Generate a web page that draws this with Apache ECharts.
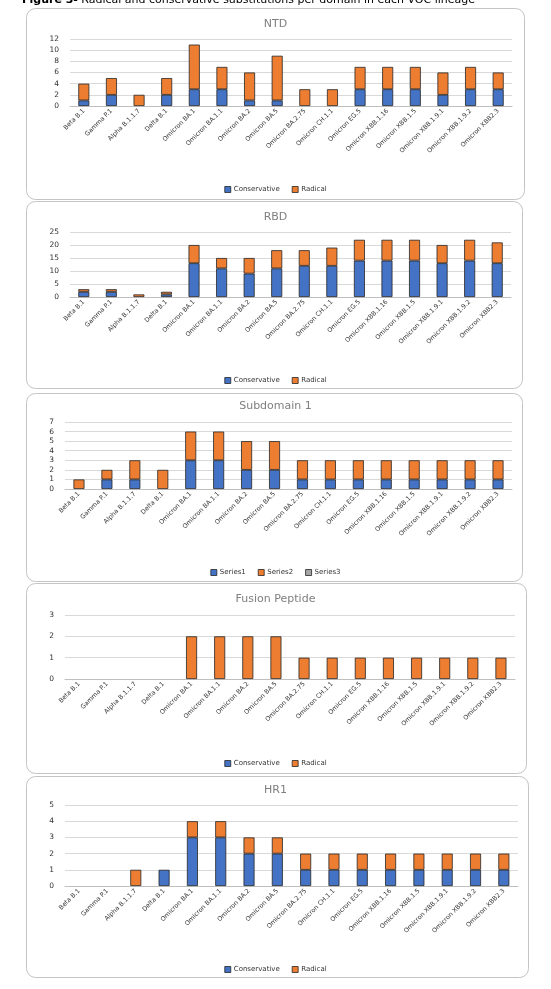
<!DOCTYPE html>
<html>
<head>
<meta charset="utf-8">
<script src="https://cdn.jsdelivr.net/npm/echarts@6/dist/echarts.min.js"></script>
<style>
html,body{margin:0;padding:0;background:#fff;}
#c{width:551px;height:989px;}
</style>
</head>
<body>
<div id="c"></div>
<script>
const categories = ["Beta B.1","Gamma P.1","Alpha B.1.1.7","Delta B.1","Omicron BA.1","Omicron BA.1.1","Omicron BA.2","Omicron BA.5","Omicron BA.2.75","Omicron CH.1.1","Omicron EG.5","Omicron XBB.1.16","Omicron XBB.1.5","Omicron XBB.1.9.1","Omicron XBB.1.9.2","Omicron XBB2.3"];

const ntdConservative = [1,2,0,2,3,3,1,1,0,0,3,3,3,2,3,3];
const ntdRadical      = [3,3,2,3,8,4,5,8,3,3,4,4,4,4,4,3];

const rbdConservative = [2,2,0,1,13,11,9,11,12,12,14,14,14,13,14,13];
const rbdRadical      = [1,1,1,1,7,4,6,7,6,7,8,8,8,7,8,8];

const sd1Series1 = [0,1,1,0,3,3,2,2,1,1,1,1,1,1,1,1];
const sd1Series2 = [1,1,2,2,3,3,3,3,2,2,2,2,2,2,2,2];
const sd1Series3 = [];

const fpConservative = [0,0,0,0,0,0,0,0,0,0,0,0,0,0,0,0];
const fpRadical      = [0,0,0,0,2,2,2,2,1,1,1,1,1,1,1,1];

const hr1Conservative = [0,0,0,1,3,3,2,2,1,1,1,1,1,1,1,1];
const hr1Radical      = [0,0,1,0,1,1,1,1,1,1,1,1,1,1,1,1];

const panelTitles = ["NTD","RBD","Subdomain 1","Fusion Peptide","HR1"];
const yMax      = [12,25,7,3,5];
const yInterval = [2,5,1,1,1];
const figureTitle = "Radical and conservative substitutions per domain in each VOC lineage";

const BLUE = '#4472C4', ORANGE = '#ED7D31', GRAY = '#A5A5A5';
const FONT = 'DejaVu Sans';

// layout (pixels)
const boxes = [
  {x:26,y:8,w:498,h:191},
  {x:26,y:201,w:496,h:187},
  {x:26,y:393,w:496,h:188},
  {x:26,y:583,w:500,h:190},
  {x:26,y:776,w:502,h:201}
];
const grids = [
  {left:70,top:39,right:39,height:67},
  {left:70,top:232,right:40,height:65},
  {left:65,top:422,right:39,height:67},
  {left:65,top:615,right:36,height:64},
  {left:65,top:805,right:33,height:81}
];
const titleY  = [14,207,396,589,780];
const legendY = [181,372,564,755,961];

const nz = a => a.map(v => v === 0 ? null : v);

const xAxes = grids.map((g,i)=>({
  type:'category', gridIndex:i, data:categories,
  axisLine:{lineStyle:{color:'#bfbfbf'}},
  axisTick:{show:false},
  axisLabel:{interval:0, rotate:45, fontSize:6.3, color:'#333', fontFamily:FONT, margin:4}
}));
const yAxes = grids.map((g,i)=>({
  type:'value', gridIndex:i, min:0, max:yMax[i], interval:yInterval[i],
  axisLine:{show:false}, axisTick:{show:false},
  splitLine:{lineStyle:{color:'#d9d9d9', width:1}},
  axisLabel:{fontSize:7.5, color:'#333', fontFamily:FONT, margin:11}
}));

function bar(name, data, color, gi){
  return {
    name, type:'bar', stack:'s'+gi, xAxisIndex:gi, yAxisIndex:gi,
    data: nz(data), barWidth:11,
    itemStyle:{color, borderColor:'#262626', borderWidth:0.8},
    emphasis:{disabled:true}
  };
}

const series = [
  bar('Conservative', ntdConservative, BLUE, 0),
  bar('Radical', ntdRadical, ORANGE, 0),
  bar('Conservative', rbdConservative, BLUE, 1),
  bar('Radical', rbdRadical, ORANGE, 1),
  bar('Series1', sd1Series1, BLUE, 2),
  bar('Series2', sd1Series2, ORANGE, 2),
  bar('Series3', sd1Series3, GRAY, 2),
  bar('Conservative', fpConservative, BLUE, 3),
  bar('Radical', fpRadical, ORANGE, 3),
  bar('Conservative', hr1Conservative, BLUE, 4),
  bar('Radical', hr1Radical, ORANGE, 4)
];

const legendData = [
  ['Conservative','Radical'],
  ['Conservative','Radical'],
  ['Series1','Series2','Series3'],
  ['Conservative','Radical'],
  ['Conservative','Radical']
];

const legends = legendData.map((d,i)=>({
  data:d, top:legendY[i], left:'center', icon:'rect', itemWidth:6, itemHeight:6,
  itemGap:12, selectedMode:false,
  itemStyle:{borderColor:'#262626', borderWidth:0.8},
  textStyle:{fontSize:7, color:'#333', fontFamily:FONT, padding:[0,0,0,-2]}
}));

const titles = panelTitles.map((t,i)=>({
  text:t, left:'center', top:titleY[i],
  textStyle:{fontSize:11, fontWeight:'normal', color:'#7f7f7f', fontFamily:FONT}
}));

const graphics = boxes.map(b=>({
  type:'rect', z:-10, silent:true,
  shape:{x:b.x+0.5, y:b.y+0.5, width:b.w, height:b.h, r:9},
  style:{fill:'none', stroke:'#c4c4c4', lineWidth:1}
}));
graphics.push({
  type:'text', left:22, top:-6, silent:true,
  style:{
    text:'{b|Figure 3-} {n|' + figureTitle + '}',
    rich:{
      b:{fontSize:11, fontWeight:'bold', fill:'#000', fontFamily:FONT},
      n:{fontSize:11, fill:'#000', fontFamily:FONT}
    }
  }
});

const chart = echarts.init(document.getElementById('c'), null, {renderer:'canvas'});
chart.setOption({
  animation:false,
  backgroundColor:'#fff',
  title:titles,
  legend:legends,
  grid:grids.map(g=>Object.assign({containLabel:false}, g)),
  xAxis:xAxes,
  yAxis:yAxes,
  series:series,
  graphic:graphics
});
</script>
</body>
</html>
